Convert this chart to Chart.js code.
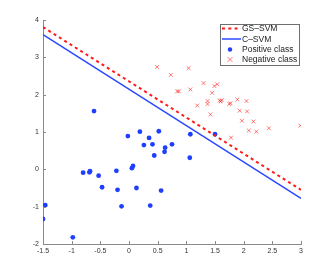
<!DOCTYPE html>
<html>
<head>
<meta charset="utf-8">
<script src="https://cdn.jsdelivr.net/npm/chart.js@4"></script>
<style>
  html, body { margin: 0; padding: 0; background: #fff; }
  #wrap { position: relative; width: 332px; height: 275px; }
</style>
</head>
<body>
<div id="wrap"><canvas id="c" width="332" height="275"></canvas></div>
<script>
// decision boundaries, evaluated at the x-limits
var lineX = [-1.5, 3];
var gsSvmY = [3.81, -0.55];
var cSvmY = [3.61, -0.78];

// positive class (blue dots)
var posX = [-0.02, 0.19, 0.35, 0.52, 0.26, 0.41, 0.44, 0.62, 0.63, -0.80,
             -0.69, -0.68, -0.53, -0.47, -0.22, -0.20, -0.13, 0.05, 0.07, 0.13,
             0.37, 0.56, -1.46, -1.50, -0.98, -0.61, 1.07, 1.06, 1.50, 0.75];
var posY = [0.89, 1.01, 0.84, 1.02, 0.65, 0.67, 0.37, 0.47, 0.58, -0.09,
            -0.08, -0.05, -0.17, -0.48, -0.04, -0.55, -0.99, 0.03, 0.09, -0.50,
            -0.97, -0.57, -0.96, -1.33, -1.82, 1.56, 0.94, 0.31, 0.94, 0.67];

// negative class (red crosses)
var negX = [0.49, 0.73, 1.04, 0.84, 0.87, 1.07, 1.30, 1.49, 1.54, 1.45,
            1.19, 1.37, 1.37, 1.58, 1.62, 1.75, 1.77, 1.89, 2.05, 1.42,
            1.93, 2.06, 1.97, 2.17, 2.09, 2.22, 2.44, 2.99, 1.78, 1.60];
var negY = [2.74, 2.53, 2.71, 2.09, 2.09, 2.14, 2.31, 2.23, 2.28, 2.05,
            1.71, 1.83, 1.75, 1.84, 1.85, 1.75, 1.77, 1.87, 1.83, 1.47,
            1.57, 1.55, 1.30, 1.28, 1.04, 1.01, 1.10, 1.17, 0.85, 1.82];

var xTicks = [-1.5, -1, -0.5, 0, 0.5, 1, 1.5, 2, 2.5, 3];
var yTicks = [-2, -1, 0, 1, 2, 3, 4];

var FONT = '"Liberation Sans", Arial, Helvetica, sans-serif';
var BLUE = '#1f3fff';
var RED = '#ff1a1a';
var CROSS = 'rgba(255,30,30,0.6)';
var AXIS = '#8a8a8a';

function pts(xs, ys) {
  return xs.map(function (x, i) { return { x: x, y: ys[i] }; });
}

// inward tick marks, MATLAB style
var innerTicks = {
  id: 'innerTicks',
  afterDraw: function (chart) {
    var ctx = chart.ctx, a = chart.chartArea;
    var xs = chart.scales.x, ys = chart.scales.y;
    ctx.save();
    ctx.strokeStyle = AXIS;
    ctx.lineWidth = 1;
    ctx.beginPath();
    xTicks.forEach(function (v) {
      var px = Math.round(xs.getPixelForValue(v)) + 0.5;
      ctx.moveTo(px, a.bottom);
      ctx.lineTo(px, a.bottom - 3);
    });
    yTicks.forEach(function (v) {
      var py = Math.round(ys.getPixelForValue(v)) + 0.5;
      ctx.moveTo(a.left, py);
      ctx.lineTo(a.left + 3, py);
    });
    ctx.stroke();
    ctx.restore();
  }
};

// boxed legend inside the axes, top right
var boxLegend = {
  id: 'boxLegend',
  afterDraw: function (chart) {
    var ctx = chart.ctx;
    var bx = 220, by = 24, bw = 79, bh = 41;
    var rowY = [28.5, 39, 49.5, 59.5];
    ctx.save();
    ctx.fillStyle = '#fff';
    ctx.fillRect(bx, by, bw, bh);
    ctx.strokeStyle = '#6e6e6e';
    ctx.lineWidth = 1;
    ctx.strokeRect(bx + 0.5, by + 0.5, bw, bh);
    chart.data.datasets.forEach(function (ds, i) {
      var y = rowY[i];
      if (ds.type === 'line') {
        ctx.strokeStyle = ds.borderColor;
        ctx.lineWidth = ds.borderWidth;
        ctx.setLineDash(ds.borderDash || []);
        ctx.beginPath();
        ctx.moveTo(222, y);
        ctx.lineTo(241, y);
        ctx.stroke();
        ctx.setLineDash([]);
      } else if (ds.pointStyle === 'circle') {
        ctx.fillStyle = ds.backgroundColor;
        ctx.beginPath();
        ctx.arc(230, y, 2.2, 0, Math.PI * 2);
        ctx.fill();
      } else {
        ctx.strokeStyle = ds.borderColor;
        ctx.lineWidth = 1;
        ctx.beginPath();
        ctx.moveTo(227.5, y - 2.5); ctx.lineTo(232.5, y + 2.5);
        ctx.moveTo(232.5, y - 2.5); ctx.lineTo(227.5, y + 2.5);
        ctx.stroke();
      }
      ctx.fillStyle = '#222';
      ctx.font = '8.5px ' + FONT;
      ctx.textBaseline = 'middle';
      ctx.fillText(ds.label, 242, y + 0.5);
    });
    ctx.restore();
  }
};

new Chart(document.getElementById('c'), {
  type: 'scatter',
  data: {
    datasets: [
      {
        type: 'line', label: 'GS\u2013SVM', data: pts(lineX, gsSvmY),
        borderColor: RED, borderWidth: 2, borderDash: [3, 3.3],
        pointRadius: 0, fill: false
      },
      {
        type: 'line', label: 'C\u2013SVM', data: pts(lineX, cSvmY),
        borderColor: '#2a48ff', borderWidth: 1.5,
        pointRadius: 0, fill: false
      },
      {
        label: 'Positive class', data: pts(posX, posY),
        pointStyle: 'circle', pointRadius: 2.4, borderWidth: 0,
        backgroundColor: BLUE, borderColor: BLUE
      },
      {
        label: 'Negative class', data: pts(negX, negY),
        pointStyle: 'crossRot', pointRadius: 2.7, borderWidth: 1,
        borderColor: CROSS, backgroundColor: CROSS
      }
    ]
  },
  options: {
    responsive: false,
    animation: false,
    layout: { padding: { top: 20, right: 31, left: 0, bottom: 0 } },
    plugins: { legend: { display: false }, tooltip: { enabled: false } },
    scales: {
      x: {
        type: 'linear', min: -1.5, max: 3,
        afterBuildTicks: function (s) { s.ticks = xTicks.map(function (v) { return { value: v }; }); },
        afterFit: function (s) { s.height = 31; },
        grid: { display: false, drawTicks: false },
        border: { color: AXIS, width: 1 },
        ticks: {
          padding: 3, color: '#333', maxRotation: 0, autoSkip: false,
          font: { family: FONT, size: 7 },
          callback: function (v) { return String(v); }
        }
      },
      y: {
        type: 'linear', min: -2, max: 4,
        afterBuildTicks: function (s) { s.ticks = yTicks.map(function (v) { return { value: v }; }); },
        afterFit: function (s) { s.width = 43; },
        grid: { display: false, drawTicks: false },
        border: { color: AXIS, width: 1 },
        ticks: {
          padding: 4, color: '#333', autoSkip: false,
          font: { family: FONT, size: 7 },
          callback: function (v) { return String(v); }
        }
      }
    }
  },
  plugins: [innerTicks, boxLegend]
});
</script>
</body>
</html>
